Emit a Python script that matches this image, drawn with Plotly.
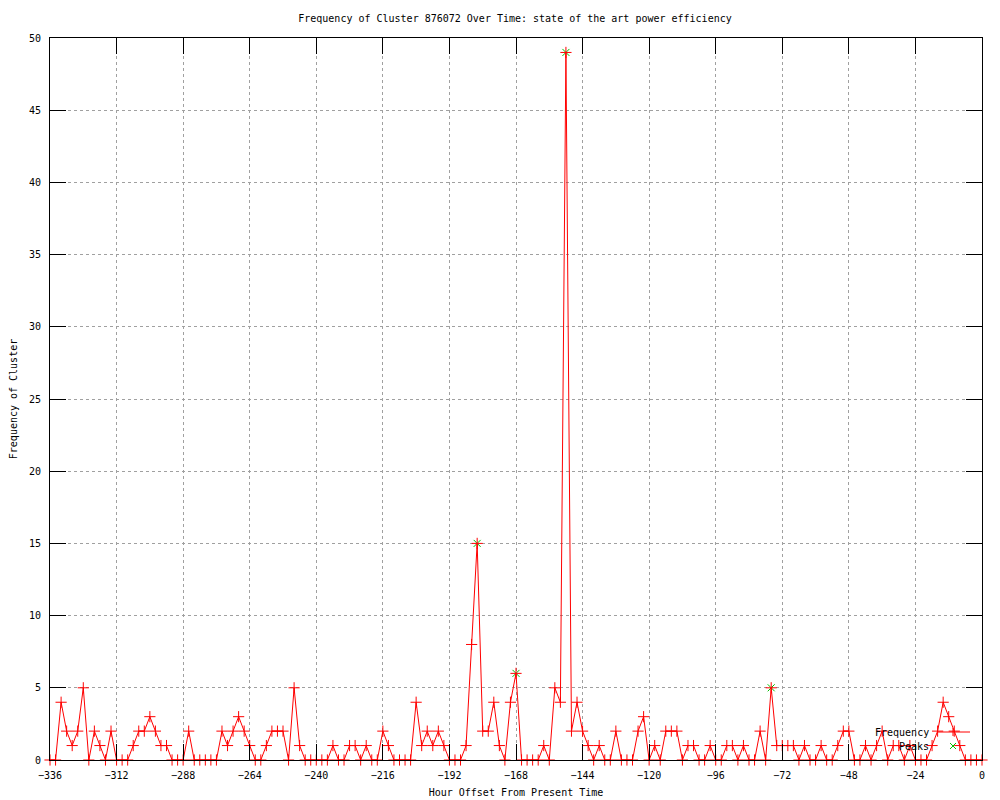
import plotly.graph_objects as go

# hours before now, one sample every 2 hours
hours = list(range(-336, 1, 2))

freq = [
    0, 0, 4, 2, 1, 2, 5, 0, 2, 1,      # -336 .. -318
    0, 2, 0, 0, 0, 1, 2, 2, 3, 2,      # -316 .. -298
    1, 1, 0, 0, 0, 2, 0, 0, 0, 0,      # -296 .. -278
    0, 2, 1, 2, 3, 2, 1, 0, 0, 1,      # -276 .. -258
    2, 2, 2, 0, 5, 1, 0, 0, 0, 0,      # -256 .. -238
    0, 1, 0, 0, 1, 1, 0, 1, 0, 0,      # -236 .. -218
    2, 1, 0, 0, 0, 0, 4, 1, 2, 1,      # -216 .. -198
    2, 1, 0, 0, 0, 1, 8, 15, 2, 2,     # -196 .. -178
    4, 1, 0, 4, 6, 0, 0, 0, 0, 1,      # -176 .. -158
    0, 5, 4, 49, 2, 4, 2, 1, 0, 1,     # -156 .. -138
    0, 0, 2, 0, 0, 0, 2, 3, 0, 1,      # -136 .. -118
    0, 2, 2, 2, 0, 1, 1, 0, 0, 1,      # -116 .. -98
    0, 0, 1, 1, 0, 1, 0, 0, 2, 0,      # -96 .. -78
    5, 1, 1, 1, 1, 0, 1, 0, 0, 1,      # -76 .. -58
    0, 0, 1, 2, 2, 0, 0, 1, 0, 1,      # -56 .. -38
    2, 0, 1, 1, 0, 1, 0, 0, 0, 1,      # -36 .. -18
    2, 4, 3, 2, 1, 0, 0, 0, 0,         # -16 .. 0
]

peak_hours = [-182, -168, -150, -76]
peak_vals = [15, 6, 49, 5]

x_ticks = list(range(-336, 1, 24))
y_ticks = list(range(0, 51, 5))

FONT = "DejaVu Sans Mono"
RED = "#ff0000"
GREEN = "#00c000"

# plot area in pixels: x 50..982, y 38..760
L, R, T, B = 50, 982, 38, 760


def px(x):
    return (x - L) / (R - L)


def py(y):
    return (B - y) / (B - T)


fig = go.Figure()

fig.add_trace(go.Scatter(
    x=peak_hours, y=peak_vals, mode="markers", name="Peaks",
    marker=dict(symbol="x-thin", size=7, line=dict(color=GREEN, width=1)),
    showlegend=False,
))

fig.add_trace(go.Scatter(
    x=hours, y=freq, mode="lines+markers", name="Frequency",
    line=dict(color=RED, width=1),
    marker=dict(symbol="cross-thin", size=8, line=dict(color=RED, width=1)),
    showlegend=False, cliponaxis=False,
))

# legend drawn gnuplot style: text on the left, sample on the right
shapes = [
    dict(type="line", xref="paper", yref="paper",
         x0=px(937), x1=px(970), y0=py(732), y1=py(732),
         line=dict(color=RED, width=1)),
    dict(type="line", xref="paper", yref="paper",
         x0=px(953), x1=px(953), y0=py(728), y1=py(736),
         line=dict(color=RED, width=1)),
    dict(type="line", xref="paper", yref="paper",
         x0=px(950), x1=px(956), y0=py(743), y1=py(749),
         line=dict(color=GREEN, width=1)),
    dict(type="line", xref="paper", yref="paper",
         x0=px(950), x1=px(956), y0=py(749), y1=py(743),
         line=dict(color=GREEN, width=1)),
]

annotations = [
    dict(text="Frequency", xref="paper", yref="paper", x=px(931), y=py(732),
         xanchor="right", yanchor="middle", showarrow=False,
         font=dict(family=FONT, size=10, color="black")),
    dict(text="Peaks", xref="paper", yref="paper", x=px(931), y=py(746),
         xanchor="right", yanchor="middle", showarrow=False,
         font=dict(family=FONT, size=10, color="black")),
]

axis_common = dict(
    showline=True, linecolor="black", linewidth=1, mirror="ticks",
    ticks="inside", ticklen=16, tickcolor="black", tickwidth=1,
    showgrid=True, gridcolor="#a0a0a0", griddash="dot", gridwidth=1,
    zeroline=False, automargin=False,
    tickfont=dict(family=FONT, size=10, color="black"),
)

fig.update_layout(
    width=1000, height=800,
    paper_bgcolor="white", plot_bgcolor="white",
    margin=dict(l=L, r=1000 - R, t=T, b=800 - B),
    title=dict(text="Frequency of Cluster 876072 Over Time: state of the art power efficiency",
               x=0.515, xanchor="center", y=1 - 18 / 800, yanchor="middle",
               font=dict(family=FONT, size=10, color="black")),
    xaxis=dict(range=[-336, 0], tickvals=x_ticks, ticklabelstandoff=6,
               title=dict(text="Hour Offset From Present Time", standoff=8,
                          font=dict(family=FONT, size=10, color="black")),
               **axis_common),
    yaxis=dict(range=[0, 50], tickvals=y_ticks, ticklabelstandoff=6,
               title=dict(text="Frequency of Cluster", standoff=9,
                          font=dict(family=FONT, size=10, color="black")),
               **axis_common),
    shapes=shapes,
    annotations=annotations,
    showlegend=False,
)

# the page body has an 8px default margin; drop it so the figure fills the window
fig.write_html("out.html", config={"displayModeBar": False},
               post_script="document.body.style.margin = '0';")
